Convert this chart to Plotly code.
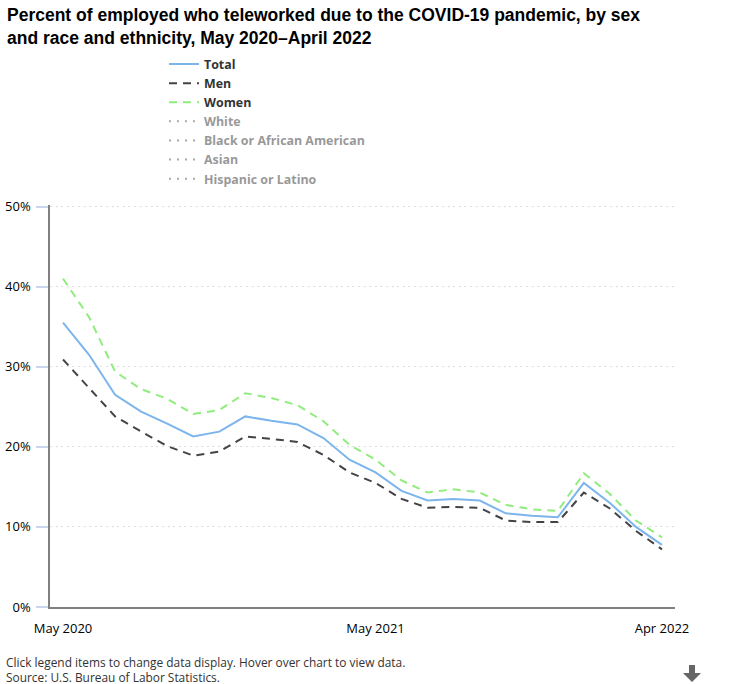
import plotly.graph_objects as go

months = ["May 2020","Jun 2020","Jul 2020","Aug 2020","Sep 2020","Oct 2020","Nov 2020","Dec 2020",
          "Jan 2021","Feb 2021","Mar 2021","Apr 2021","May 2021","Jun 2021","Jul 2021","Aug 2021",
          "Sep 2021","Oct 2021","Nov 2021","Dec 2021","Jan 2022","Feb 2022","Mar 2022","Apr 2022"]
tick_labels = ["May 2020", "May 2021", "Apr 2022"]
y_ticks = [0, 10, 20, 30, 40, 50]
y_tick_labels = ["0%", "10%", "20%", "30%", "40%", "50%"]

total = [35.5,31.5,26.5,24.4,22.9,21.3,21.9,23.8,23.25,22.8,21.1,18.4,16.8,14.5,13.3,13.5,13.3,11.7,11.4,11.2,15.5,13.0,10.0,7.75]
men = [30.9,27.3,23.8,21.9,20.1,18.9,19.4,21.3,21.0,20.6,19.0,16.8,15.5,13.5,12.4,12.5,12.4,10.8,10.6,10.6,14.3,12.3,9.5,7.2]
women = [41.0,36.2,29.4,27.2,26.0,24.1,24.6,26.7,26.1,25.2,23.2,20.25,18.4,15.8,14.3,14.7,14.3,12.75,12.2,12.0,16.7,14.1,10.8,8.7]
# Hidden by default in the reference; their values cannot be read from the picture.
hidden_series = ["White", "Black or African American", "Asian", "Hispanic or Latino"]
no_data = [None] * len(months)

PH = 401.6  # plot-area height in px; slightly over 400 so the 50% gridline survives end clipping
def py_(py):
    return (607 - py) / PH

fig = go.Figure()
for name, vals, color, dash in [("Total", total, "#7cb5ec", "solid"),
                                ("Men", men, "#434348", "8px,6px"),
                                ("Women", women, "#90ed7d", "8px,6px")]:
    fig.add_trace(go.Scatter(x=months, y=vals, name=name, mode="lines",
                             line=dict(color=color, width=2, dash=dash)))
for name in hidden_series:
    fig.add_trace(go.Scatter(x=months, y=no_data, name=name, mode="lines", visible="legendonly",
                             line=dict(color="#555555", width=2, dash="2px,6px")))

fig.update_layout(
    width=741, height=684, autosize=False,
    margin=dict(l=50, r=66, t=684-77-PH, b=77),
    paper_bgcolor="white", plot_bgcolor="white",
    font=dict(family="Open Sans", color="#000000", size=13),
    title=dict(text="Percent of employed who teleworked due to the COVID-19 pandemic, by sex<br>and race and ethnicity, May 2020–April 2022",
               x=7/741, xanchor="left", y=1-21/684, yanchor="top",
               font=dict(family="Liberation Sans", size=17.5, color="#000000", weight="bold")),
    legend=dict(x=(164-50)/625, xanchor="left", y=py_(50), yanchor="top",
                font=dict(family="Open Sans", size=12.4, color="#333333", weight="bold"),
                bgcolor="rgba(0,0,0,0)", tracegroupgap=0, itemwidth=30),
    xaxis=dict(type="category", categoryorder="array", categoryarray=months, automargin=False,
               range=[-0.5, 23.5], showgrid=False, tickmode="array",
               tickvals=tick_labels, ticktext=tick_labels, ticks="", ticklabelstandoff=8,
               showline=True, linecolor="#808080", linewidth=2, zeroline=False,
               tickfont=dict(size=13, color="#000000")),
    yaxis=dict(range=[0, 50.2], tickmode="array", tickvals=y_ticks, ticktext=y_tick_labels, automargin=False,
               ticks="outside", ticklen=12, tickcolor="#ccd6eb", tickwidth=2, ticklabelstandoff=3,
               showgrid=True, gridcolor="#dddddd", griddash="2px,3.6px", gridwidth=1.3,
               showline=True, linecolor="#808080", linewidth=1.5, zeroline=False,
               tickfont=dict(size=13, color="#000000")),
    annotations=[dict(text="Click legend items to change data display. Hover over chart to view data.<br>Source: U.S. Bureau of Labor Statistics.",
                      xref="paper", yref="paper", x=-46/625, y=py_(652), xanchor="left", yanchor="top",
                      align="left", showarrow=False,
                      font=dict(family="Open Sans", size=11.9, color="#333333"))],
    shapes=[dict(type="path", xref="paper", yref="paper",
                 path="M %f %f L %f %f L %f %f L %f %f L %f %f L %f %f L %f %f Z" % tuple(
                     v for px, py in [(689,665),(695,665),(695,673),(701,673),(692,682),(683,673),(689,673)]
                     for v in ((px-50)/625, py_(py))),
                 fillcolor="#666666", line=dict(width=0))],
)
fig.write_html("out.html", config=dict(displayModeBar=False),
               post_script="document.body.style.margin='0';document.body.style.overflow='hidden';")
